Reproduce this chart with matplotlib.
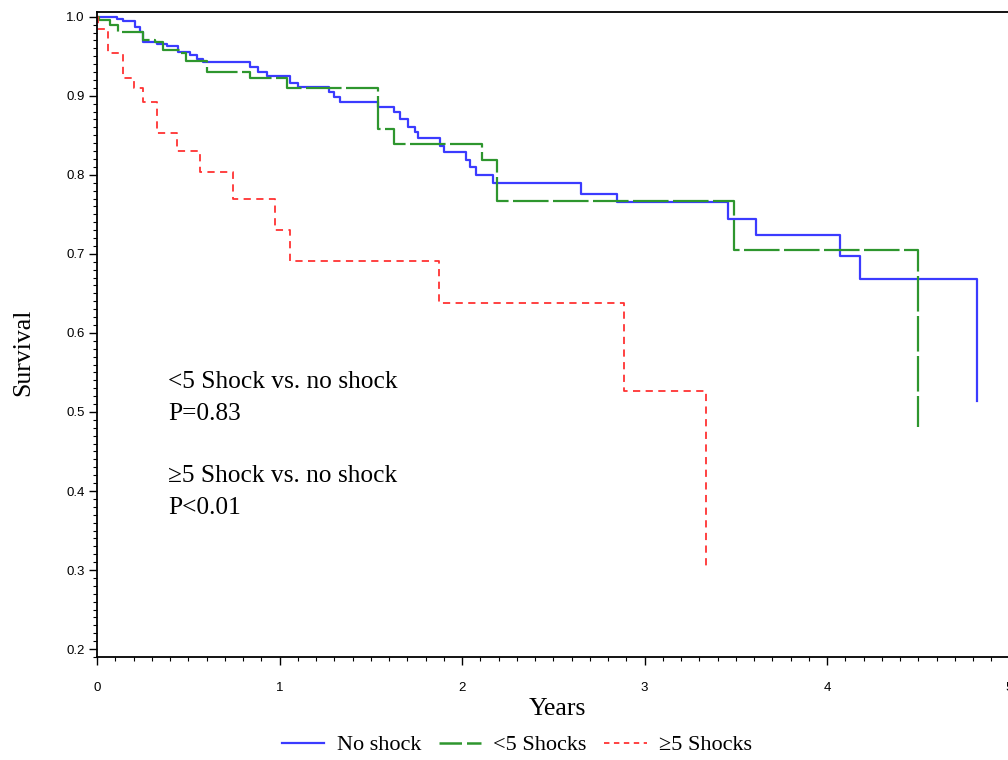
import matplotlib
matplotlib.use("Agg")
import matplotlib.pyplot as plt
from matplotlib.lines import Line2D
from matplotlib.ticker import MultipleLocator, FixedLocator

# ---- data ----
no_shock_t = [0, 0.11, 0.14, 0.21, 0.235, 0.25, 0.33, 0.385, 0.445, 0.51, 0.55, 0.58,
              0.84, 0.88, 0.93, 1.06, 1.10, 1.27, 1.30, 1.33, 1.54, 1.63, 1.66, 1.705,
              1.745, 1.76, 1.88, 1.90, 2.02, 2.045, 2.075, 2.17, 2.65, 2.85, 3.455,
              3.61, 4.07, 4.18, 4.82]
no_shock_s = [1.0, 0.997, 0.994, 0.987, 0.981, 0.968, 0.966, 0.963, 0.956, 0.952, 0.947, 0.943,
              0.937, 0.930, 0.925, 0.916, 0.911, 0.905, 0.898, 0.892, 0.886, 0.880, 0.871, 0.861,
              0.854, 0.847, 0.837, 0.829, 0.819, 0.810, 0.800, 0.790, 0.776, 0.765, 0.744,
              0.724, 0.697, 0.668, 0.514]

lt5_t = [0, 0.01, 0.07, 0.115, 0.25, 0.32, 0.36, 0.455, 0.49, 0.60, 0.84, 1.04,
         1.54, 1.63, 2.11, 2.19, 3.49, 4.50]
lt5_s = [1.0, 0.996, 0.990, 0.981, 0.971, 0.968, 0.958, 0.954, 0.944, 0.930, 0.922, 0.910,
         0.858, 0.839, 0.819, 0.767, 0.705, 0.481]

ge5_t = [0, 0.005, 0.06, 0.14, 0.20, 0.25, 0.33, 0.44, 0.565, 0.745, 0.975, 1.06,
         1.876, 2.89, 3.335]
ge5_s = [1.0, 0.985, 0.954, 0.923, 0.910, 0.892, 0.853, 0.830, 0.804, 0.770, 0.730, 0.691,
         0.638, 0.527, 0.303]

labels = ["No shock", "<5 Shocks", "\u22655 Shocks"]
colors = ["#3b3bff", "#2e962e", "#ff3333"]
x_ticks = [0, 1, 2, 3, 4, 5]
y_ticks = [0.2, 0.3, 0.4, 0.5, 0.6, 0.7, 0.8, 0.9, 1.0]
annot = ["<5 Shock vs. no shock", "P=0.83", "\u22655 Shock vs. no shock", "P<0.01"]
annot_y = [0.538, 0.497, 0.419, 0.378]

W, H = 1008, 760
fig = plt.figure(figsize=(W / 100, H / 100), dpi=100)
left = 97 / W
right_px = 1009.5
bottom = 1 - 657 / H
top = 1 - 12 / H
ax = fig.add_axes([left, bottom, (right_px - 97) / W, top - bottom])

serif = "Liberation Serif"
sans = "Liberation Sans"

ax.step(no_shock_t, no_shock_s, where="post", color=colors[0], lw=1.6)
ax.step(lt5_t, lt5_s, where="post", color=colors[1], lw=1.6, dashes=(16, 2))
ax.step(ge5_t, ge5_s, where="post", color=colors[2], lw=1.3, dashes=(4, 3))

ax.set_xlim(0, 5)
ax.set_ylim(0.19, 1.006)
ax.xaxis.set_major_locator(FixedLocator(x_ticks))
ax.yaxis.set_major_locator(FixedLocator(y_ticks))
ax.xaxis.set_minor_locator(MultipleLocator(0.1))
ax.yaxis.set_minor_locator(MultipleLocator(0.01))
ax.set_xticklabels([str(v) for v in x_ticks], fontfamily=sans, fontsize=9.5)
ax.set_yticklabels([f"{v:.1f}" for v in y_ticks], fontfamily=sans, fontsize=9.5)
ax.tick_params(which="major", direction="out", length=6, width=1, pad=12)
ax.tick_params(axis="y", which="major", pad=3)
ax.tick_params(which="minor", direction="out", length=3, width=0.8)
for sp in ["left", "bottom", "top"]:
    ax.spines[sp].set_linewidth(1.3)
ax.spines["right"].set_visible(False)

ax.set_xlabel("Years", fontfamily=serif, fontsize=18.5)
ax.xaxis.set_label_coords((557 - 97) / 911.5, (657 - 698) / 645)
ax.set_ylabel("Survival", fontfamily=serif, fontsize=18.5, va="center")
ax.yaxis.set_label_coords((23 - 97) / 911.5, (657 - 352) / 645)

for txt, yv in zip(annot, annot_y):
    ax.text(0.39, yv, txt, fontfamily=serif, fontsize=18.3, va="center")

handles = [
    Line2D([], [], color=colors[0], lw=1.6),
    Line2D([], [], color=colors[1], lw=1.8, dashes=(9, 2)),
    Line2D([], [], color=colors[2], lw=1.3, dashes=(3, 2.5)),
]
fig.legend(handles=handles, labels=labels, loc="center",
           bbox_to_anchor=(517 / W, 1 - 745 / H), ncol=3, frameon=False,
           prop={"family": serif, "size": 16}, handlelength=1.9, columnspacing=0.8,
           handletextpad=0.55)

fig.savefig("out.png", dpi=100)
